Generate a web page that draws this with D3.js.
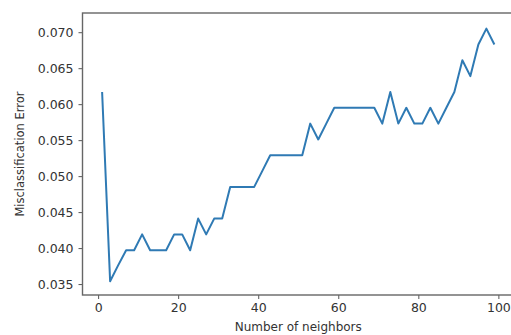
<!DOCTYPE html>
<html>
<head>
<meta charset="utf-8">
<script src="https://cdn.jsdelivr.net/npm/d3@7"></script>
<style>
body { margin:0; background:#fff; }
svg text { font-family: "DejaVu Sans", sans-serif; fill:#333; }
</style>
</head>
<body>
<svg id="chart"></svg>
<script>
// number of neighbours (odd k) and the error for each
var neighbors = d3.range(1, 100, 2);
var errors = [
    0.0617, 0.0354, 0.0376, 0.0397, 0.0397, 0.0419, 0.0397, 0.0397, 0.0397, 0.0419,
    0.0419, 0.0397, 0.0441, 0.0419, 0.0441, 0.0441, 0.0485, 0.0485, 0.0485, 0.0485,
    0.0507, 0.0529, 0.0529, 0.0529, 0.0529, 0.0529, 0.0573, 0.0551, 0.0573, 0.0595,
    0.0595, 0.0595, 0.0595, 0.0595, 0.0595, 0.0573, 0.0617, 0.0573, 0.0595, 0.0573,
    0.0573, 0.0595, 0.0573, 0.0595, 0.0617, 0.0661, 0.0639, 0.0683, 0.0705, 0.0683
];
var xTicks = [0, 20, 40, 60, 80, 100];
var yTicks = [0.035, 0.040, 0.045, 0.050, 0.055, 0.060, 0.065, 0.070];

var width = 511;
var height = 335;
var margin = {top: 13, right: -3, bottom: 40, left: 82.5};

var svg = d3.select("#chart")
    .attr("width", width)
    .attr("height", height);

var xScale = d3.scaleLinear()
    .domain([-3.9, 103.9])
    .range([margin.left, width - margin.right]);

var yScale = d3.scaleLinear()
    .domain([0.03348, 0.07267])
    .range([height - margin.bottom, margin.top]);

// axes
var xAxis = d3.axisBottom(xScale)
    .tickValues(xTicks)
    .tickSize(4)
    .tickPadding(4)
    .tickFormat(d3.format("d"));

var yAxis = d3.axisLeft(yScale)
    .tickValues(yTicks)
    .tickSize(4)
    .tickPadding(5)
    .tickFormat(d3.format(".3f"));

var gx = svg.append("g")
    .attr("transform", "translate(0," + (height - margin.bottom) + ")")
    .call(xAxis);

var gy = svg.append("g")
    .attr("transform", "translate(" + margin.left + ",0)")
    .call(yAxis);

[gx, gy].forEach(function(g){
    g.select(".domain").remove();
    g.selectAll(".tick line").attr("stroke", "#555").attr("stroke-width", 1);
    g.selectAll(".tick text").attr("font-size", 12.5).attr("fill", "#444");
});

// the line
var line = d3.line()
    .x(function(d, i){ return xScale(neighbors[i]); })
    .y(function(d){ return yScale(d); });

svg.append("path")
    .datum(errors)
    .attr("d", line)
    .attr("fill", "none")
    .attr("stroke", "#2f7ab4")
    .attr("stroke-width", 2)
    .attr("stroke-linejoin", "round");

// frame
svg.append("rect")
    .attr("x", margin.left)
    .attr("y", margin.top)
    .attr("width", width - margin.right - margin.left)
    .attr("height", height - margin.bottom - margin.top)
    .attr("fill", "none")
    .attr("stroke", "#666")
    .attr("stroke-width", 1.4);

// labels
svg.append("text")
    .attr("x", (margin.left + width - margin.right) / 2)
    .attr("y", 331)
    .attr("text-anchor", "middle")
    .attr("font-size", 12)
    .text("Number of neighbors");

svg.append("text")
    .attr("transform", "translate(24," + ((margin.top + height - margin.bottom) / 2) + ") rotate(-90)")
    .attr("text-anchor", "middle")
    .attr("font-size", 11.5)
    .text("Misclassification Error");
</script>
</body>
</html>
